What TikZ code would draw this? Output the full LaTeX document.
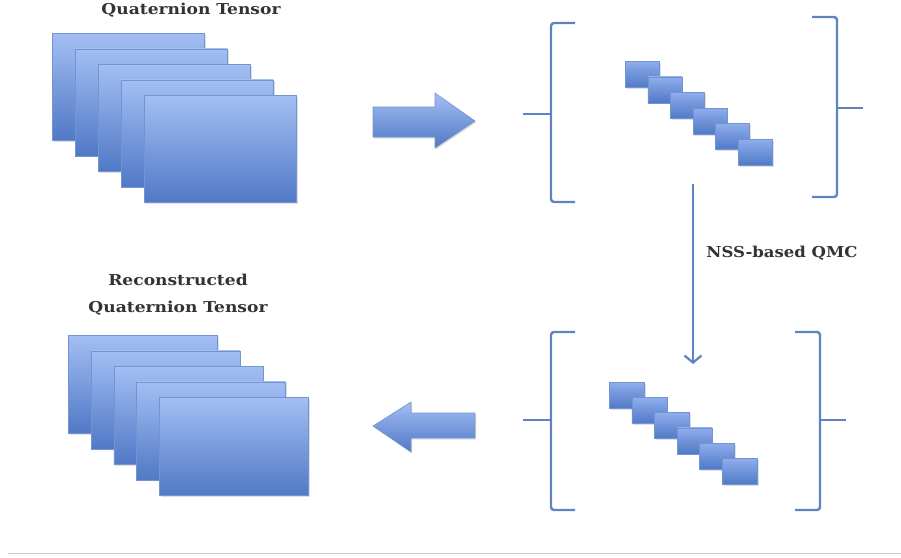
\documentclass[tikz,border=0pt]{standalone}
\usepackage{fontspec}
\setmainfont{DejaVu Serif}
\usepackage{xcolor}
\usepackage{tikz}
\usetikzlibrary{positioning, arrows.meta, shadows}
\definecolor{sheettop}{HTML}{A3BEF3}
\definecolor{sheetbot}{HTML}{5079C6}
\definecolor{celltop}{HTML}{8EADEC}
\definecolor{brk}{HTML}{5E82C2}

\begin{document}
\begin{tikzpicture}[x=1pt, y=-1pt, >=stealth,
    sheet/.style={draw=sheetbot!80, line width=0.6pt, top color=sheettop, bottom color=sheetbot,
      drop shadow={shadow xshift=1.2pt, shadow yshift=-1.5pt, opacity=0.25}, inner sep=0pt},
    cell/.style={sheet, top color=celltop, minimum width=34pt, minimum height=26pt},
    bracket/.style={draw=brk, line width=2.4pt, rounded corners=3pt},
    fat/.style={top color=sheettop, bottom color=sheetbot, draw=sheetbot!80, line width=0.6pt,
      drop shadow={shadow xshift=1.2pt, shadow yshift=-1.5pt, opacity=0.25}},
    lbl/.style={font=\bfseries\fontsize{15}{27}\selectfont, text=black!80, align=center, xscale=1.14}]
  \useasboundingbox (0,0) rectangle (901,557);

  % input tensor
  \node[lbl] (intitle) at (191,10) {Quaternion Tensor};
  \foreach \i in {0,...,4}
    \node[sheet, minimum width=152pt, minimum height=107pt, anchor=north west] (qt\i) at (52+23*\i,33+15.5*\i) {};

  % forward arrow
  \path[fat] (373,107) -- (435,107) -- (435,93) -- (475,121) -- (435,148) -- (435,137) -- (373,137) -- cycle;

  % upper brackets and diagonal blocks
  \draw[bracket] (575,23) -- (551,23) -- (551,202) -- (575,202);
  \draw[bracket] (551,114) -- (523,114);
  \draw[bracket] (812,17) -- (837,17) -- (837,197) -- (812,197);
  \draw[bracket] (837,108) -- (863,108);
  \foreach \i in {0,...,5}
    \node[cell, anchor=north west] (ua\i) at (625+22.6*\i,61+15.6*\i) {};

  % completion step
  \coordinate (qmcfrom) at (693,184);
  \coordinate (qmcto) at (693,364);
  \draw[brk, line width=2.2pt, -{Straight Barb[length=7pt,width=17pt]}] (qmcfrom) -- (qmcto);
  \node[font=\bfseries\fontsize{15}{18}\selectfont, text=black!80, xscale=1.1] (qmc) at (782,253) {NSS-based QMC};

  % lower brackets and diagonal blocks
  \draw[bracket] (575,332) -- (551,332) -- (551,510) -- (575,510);
  \draw[bracket] (551,420) -- (523,420);
  \draw[bracket] (795,332) -- (820,332) -- (820,510) -- (795,510);
  \draw[bracket] (820,420) -- (846,420);
  \foreach \i in {0,...,5}
    \node[cell, minimum width=35pt, anchor=north west] (la\i) at (609+22.6*\i,382+15.2*\i) {};

  % backward arrow
  \path[fat] (475,413) -- (411,413) -- (411,402) -- (373,426) -- (411,452) -- (411,438) -- (475,438) -- cycle;

  % reconstructed tensor
  \node[lbl] (outtitle) at (178,294.5) {Reconstructed\\Quaternion Tensor};
  \foreach \i in {0,...,4}
    \node[sheet, minimum width=149pt, minimum height=98pt, anchor=north west] (rt\i) at (68+22.8*\i,335+15.5*\i) {};

  \draw[black!20, line width=1pt] (8,553) -- (901,553);
\end{tikzpicture}
\end{document}
